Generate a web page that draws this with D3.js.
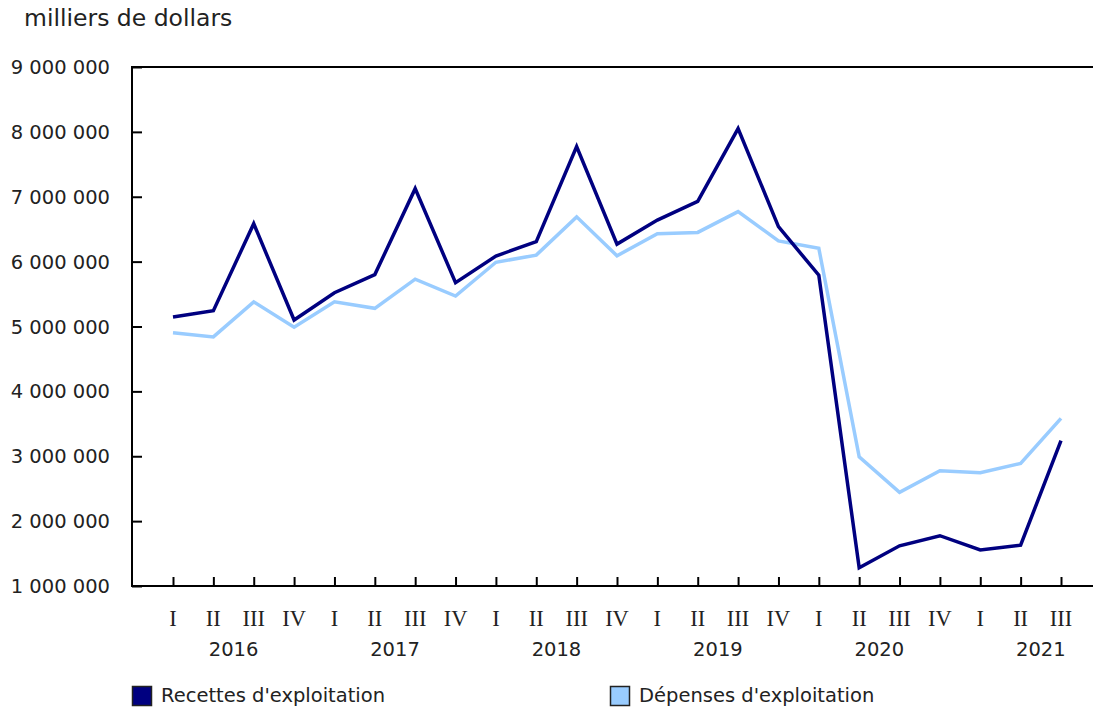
<!DOCTYPE html>
<html>
<head>
<meta charset="utf-8">
<script src="https://cdn.jsdelivr.net/npm/d3@7"></script>
<style>
  body { margin: 0; background: #fff; }
  text { font-family: Verdana, "DejaVu Sans", sans-serif; fill: #222; }
</style>
</head>
<body>
<svg id="svg1" width="1094" height="708"></svg>
<script>
// data, milliers de dollars
var quarters = ["I","II","III","IV","I","II","III","IV","I","II","III","IV","I","II","III","IV","I","II","III","IV","I","II","III"]
var years = ["2016","2017","2018","2019","2020","2021"]
var recettes = [5146000,5244000,6585000,5100000,5520000,5800000,7125000,5675000,6087000,6307000,7775000,6270000,6640000,6930000,8050000,6540000,5790000,1280000,1620000,1775000,1555000,1630000,3240000]
var depenses = [4905000,4840000,5380000,4990000,5380000,5280000,5730000,5470000,5990000,6100000,6690000,6090000,6430000,6450000,6770000,6320000,6205000,2990000,2444000,2777000,2746000,2890000,3585000]
var yTicks = [1000000,2000000,3000000,4000000,5000000,6000000,7000000,8000000,9000000]
var seriesNames = ["Recettes d'exploitation","Dépenses d'exploitation"]
var colors = ["#000080","#99ccff"]

var pLeft=132, pRight=1093, pTop=67, pBottom=586
var svg = d3.select("#svg1")

var idx = d3.range(quarters.length)
var x = d3.scalePoint().domain(idx).range([173,1061])
var y = d3.scaleLinear().domain([1000000,9000000]).range([pBottom,pTop])

var fmt = function(v){ return d3.format(",")(v).replace(/,/g," ") }

// title
svg.append("text").attr("x",24).attr("y",26)
    .style("font-size","23.5px").text("milliers de dollars")

// y axis
var gy = svg.append("g").attr("transform","translate("+pLeft+",0)")
    .call(d3.axisRight(y).tickValues(yTicks).tickSize(10).tickFormat(""))
gy.select(".domain").remove()
gy.selectAll("line").attr("stroke","#000").attr("stroke-width",2)
svg.selectAll(".ylab").data(yTicks).enter().append("text")
    .attr("class","ylab")
    .attr("x",110).attr("y",function(d){ return y(d) })
    .attr("dy","0.36em").attr("text-anchor","end")
    .style("font-size","19.5px").text(fmt)

// x axis
var gx = svg.append("g").attr("transform","translate(0,"+pBottom+")")
    .call(d3.axisTop(x).tickSize(9).tickFormat(""))
gx.select(".domain").remove()
gx.selectAll("line").attr("stroke","#000").attr("stroke-width",2)

svg.selectAll(".qlab").data(idx).enter().append("text")
    .attr("class","qlab")
    .attr("x",function(d){ return x(d) }).attr("y",626)
    .attr("text-anchor","middle")
    .style("font-family","'Liberation Serif','Times New Roman',serif")
    .style("font-size","22.5px")
    .text(function(d){ return quarters[d] })

svg.selectAll(".yrlab").data(years).enter().append("text")
    .attr("class","yrlab")
    .attr("x",function(d,i){ return (x(i*4+1)+x(Math.min(i*4+2,idx.length-1)))/2 })
    .attr("y",656).attr("text-anchor","middle")
    .style("font-size","19.5px").text(function(d){ return d })

// frame lines
svg.append("line").attr("x1",pLeft).attr("x2",pLeft).attr("y1",pTop).attr("y2",pBottom)
    .attr("stroke","#000").attr("stroke-width",2)
svg.append("line").attr("x1",pLeft-1).attr("x2",pRight).attr("y1",pTop).attr("y2",pTop)
    .attr("stroke","#000").attr("stroke-width",2)
svg.append("line").attr("x1",pLeft-1).attr("x2",pRight).attr("y1",pBottom).attr("y2",pBottom)
    .attr("stroke","#000").attr("stroke-width",2)

// lines
var line = d3.line().x(function(d,i){ return x(i) }).y(function(d){ return y(d) })
svg.append("path").datum(depenses).attr("d",line)
    .attr("fill","none").attr("stroke",colors[1]).attr("stroke-width",3.5)
svg.append("path").datum(recettes).attr("d",line)
    .attr("fill","none").attr("stroke",colors[0]).attr("stroke-width",3.5)

// legend
var legX = [132,610]
var leg = svg.selectAll(".leg").data(seriesNames).enter().append("g")
    .attr("transform",function(d,i){ return "translate("+legX[i]+",686)" })
leg.append("rect").attr("x",0.5).attr("y",0.5).attr("width",19).attr("height",19)
    .attr("fill",function(d,i){ return colors[i] }).attr("stroke","#222").attr("stroke-width",1.5)
leg.append("text").attr("x",29).attr("y",16)
    .style("font-size","19.5px").text(function(d){ return d })
</script>
</body>
</html>
